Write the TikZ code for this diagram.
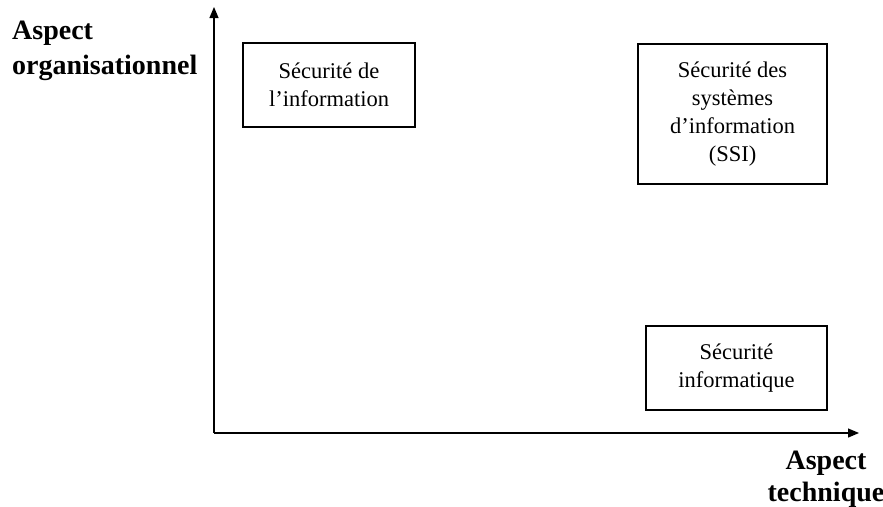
\documentclass[tikz,border=0pt]{standalone}
\usepackage{fontspec}
\setmainfont{Liberation Serif}
\usetikzlibrary{arrows.meta}
\begin{document}
\begin{tikzpicture}[x=1pt,y=-1pt,
  boxstyle/.style={draw=black, line width=2pt, inner sep=0pt, align=center,
    font=\fontsize{22.5}{28}\selectfont},
  axisstyle/.style={line width=1.2pt, -{Triangle[length=11pt,width=9pt]}},
  axlabel/.style={font=\fontsize{28}{35}\selectfont\bfseries, inner sep=0pt}]
\useasboundingbox (0,0) rectangle (883,506);
\coordinate (o) at (214,433);
\coordinate (ytop) at (214,7);
\coordinate (xend) at (859,433);
\draw[axisstyle] (o) -- (ytop);
\draw[axisstyle] (o) -- (xend);
\node[boxstyle, minimum width=172pt, minimum height=84pt] (b1) at (329,85) {Sécurité de\\l’information};
\node[boxstyle, minimum width=189pt, minimum height=140pt] (b2) at (732.5,114) {Sécurité des\\systèmes\\d’information\\(SSI)};
\node[boxstyle, minimum width=181pt, minimum height=84pt] (b3) at (736.5,368) {Sécurité\\informatique};
\node[axlabel, align=left, anchor=north west] (ly) at (12,21) {Aspect\\organisationnel};
\node[axlabel, align=center, anchor=north, font=\fontsize{28}{32}\selectfont\bfseries] (lx) at (826,451) {Aspect\\technique};
\end{tikzpicture}
\end{document}
